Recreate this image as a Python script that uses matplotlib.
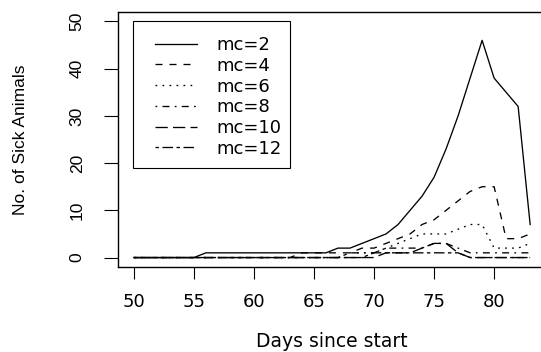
import matplotlib
matplotlib.use("Agg")
import matplotlib.pyplot as plt
from matplotlib.patches import Rectangle
import numpy as np

plt.rcParams["font.family"] = ["DejaVu Sans"]
plt.rcParams["lines.scale_dashes"] = False

days = np.arange(50, 84)

mc2 = [0, 0, 0, 0, 0, 0, 1, 1, 1, 1, 1, 1, 1, 1, 1, 1, 1, 2,
       2, 3, 4, 5, 7, 10, 13, 17, 23, 30, 38, 46, 38, 35, 32, 7]
mc4 = [0, 0, 0, 0, 0, 0, 0, 0, 0, 0, 0, 0, 0, 0, 1, 1, 1, 1,
       1, 2, 2, 3, 4, 5, 7, 8, 10, 12, 14, 15, 15, 4, 4, 5]
mc6 = [0, 0, 0, 0, 0, 0, 0, 0, 0, 0, 0, 0, 0, 0, 0, 0, 0, 0,
       1, 1, 1, 2, 3, 4, 5, 5, 5, 6, 7, 7, 2, 2, 2, 3]
mc8 = [0, 0, 0, 0, 0, 0, 0, 0, 0, 0, 0, 0, 0, 0, 0, 0, 0, 0,
       1, 1, 1, 2, 2, 2, 2, 3, 3, 2, 1, 1, 1, 1, 1, 1]
mc10 = [0, 0, 0, 0, 0, 0, 0, 0, 0, 0, 0, 0, 0, 0, 0, 0, 0, 0,
        0, 0, 0, 1, 1, 1, 2, 3, 3, 1, 0, 0, 0, 0, 0, 0]
mc12 = [0, 0, 0, 0, 0, 0, 0, 0, 0, 0, 0, 0, 0, 0, 0, 0, 0, 0,
        0, 0, 1, 1, 1, 1, 1, 1, 1, 1, 0, 0, 0, 0, 0, 0]

series = [mc2, mc4, mc6, mc8, mc10, mc12]
labels = ["mc=2", "mc=4", "mc=6", "mc=8", "mc=10", "mc=12"]

# R-style line types (lty 1..6), dash lengths in points
u = 1.26
line_types = [
    "-",
    (0, (4 * u, 4 * u)),
    (0, (1 * u, 3 * u)),
    (0, (1 * u, 3 * u, 4 * u, 3 * u)),
    (0, (7 * u, 3 * u)),
    (0, (2 * u, 2 * u, 6 * u, 2 * u)),
]

W, H = 541, 352
fig = plt.figure(figsize=(W / 100, H / 100), dpi=100)
ax = fig.add_axes([118 / W, 85 / H, 428 / W, 255 / H])

for values, label, ls in zip(series, labels, line_types):
    ax.plot(days, values, color="black", linewidth=0.95, linestyle=ls, label=label)

ax.set_xlim(48.68, 84.32)
ax.set_ylim(-2, 52)
ax.set_xticks(np.arange(50, 85, 5))
ax.set_yticks(np.arange(0, 51, 10))
for side in ["left", "right", "top", "bottom"]:
    ax.spines[side].set_linewidth(1.0)

ax.tick_params(axis="x", direction="out", length=8.6, width=0.8, labelsize=13, pad=10)
ax.tick_params(axis="y", direction="out", length=10, width=0.8, labelsize=12.5,
               labelrotation=90, pad=14)
for lbl in ax.get_yticklabels():
    lbl.set_verticalalignment("center")
    lbl.set_fontfamily("Liberation Sans")

ax.set_xlabel("Days since start", fontsize=13.5, labelpad=15.5)
ax.set_ylabel("No. of Sick Animals", fontsize=12.5, labelpad=30,
              fontfamily="Liberation Sans")

leg = ax.legend(
    loc="upper left",
    bbox_to_anchor=(155 / W, 1 - 36.1 / H),
    bbox_transform=fig.transFigure,
    fontsize=13,
    frameon=False,
    borderpad=0,
    borderaxespad=0,
    handlelength=2.31,
    handletextpad=1.1,
    labelspacing=0.15,
)

# legend box drawn separately so the wide left margin is kept
fig.add_artist(Rectangle((133.3 / W, 1 - 168.3 / H), 156.7 / W, 147.6 / H,
                         transform=fig.transFigure, fill=False,
                         edgecolor="black", linewidth=0.8))

fig.savefig("out.png", dpi=100)
